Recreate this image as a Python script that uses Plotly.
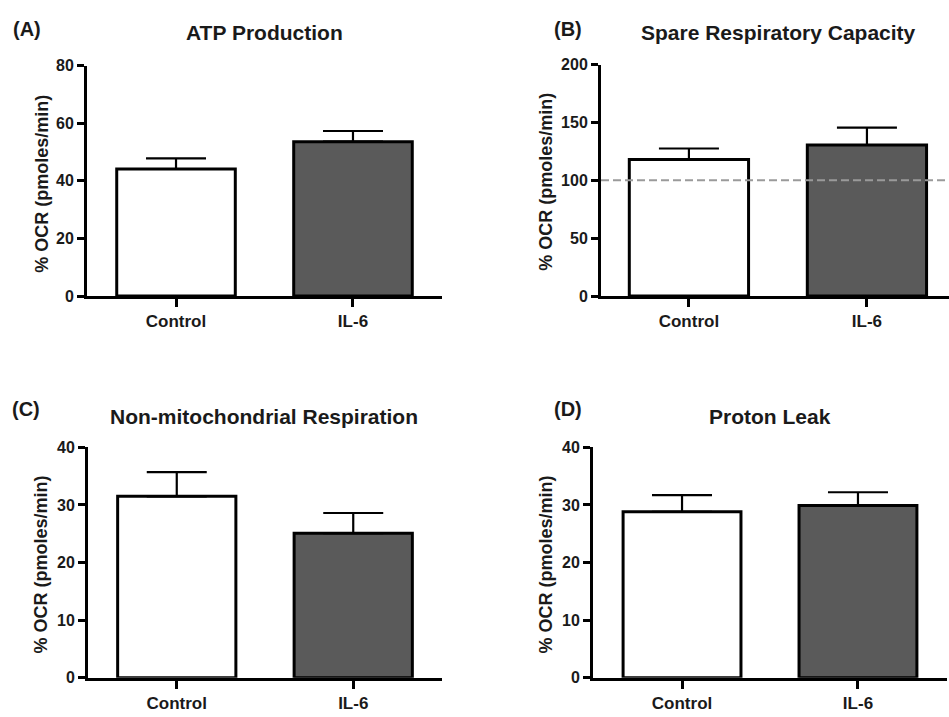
import plotly.graph_objects as go

# Seahorse OCR summary: four panels, Control vs IL-6 (mean + SEM)
groups = ["Control", "IL-6"]

atp_mean = [44.1, 53.6]
atp_err = [3.7, 3.7]

spare_mean = [118.0, 130.5]
spare_err = [9.5, 15.0]

nonmito_mean = [31.5, 25.1]
nonmito_err = [4.2, 3.5]

leak_mean = [28.8, 29.9]
leak_err = [2.9, 2.3]

panel_titles = ["ATP Production", "Spare Respiratory Capacity",
                "Non-mitochondrial Respiration", "Proton Leak"]
panel_letters = ["(A)", "(B)", "(C)", "(D)"]
y_title = "% OCR (pmoles/min)"
baseline_pct = 100

bar_colors = ["#ffffff", "#5a5a5a"]
FONT = "Liberation Sans, Arial, sans-serif"
INK = "#1a1a1a"

W, H = 949, 717

def px_x(p):
    return p / W

def px_y(p):
    return 1 - p / H

panels = [
    dict(mean=atp_mean, err=atp_err, yr=[0, 80], dt=20,
         xd=[87, 442], yd=[295, 59], xr=[-0.503, 1.503]),
    dict(mean=spare_mean, err=spare_err, yr=[0, 200], dt=50,
         xd=[601, 949], yd=[295, 58], xr=[-0.494, 1.461]),
    dict(mean=nonmito_mean, err=nonmito_err, yr=[0, 40], dt=10,
         xd=[88, 442], yd=[686, 450], xr=[-0.503, 1.503]),
    dict(mean=leak_mean, err=leak_err, yr=[0, 40], dt=10,
         xd=[593, 947], yd=[686, 450], xr=[-0.506, 1.506]),
]

fig = go.Figure()
layout = {}

for i, p in enumerate(panels):
    k = "" if i == 0 else str(i + 1)
    fig.add_trace(go.Bar(
        x=groups, y=p["mean"], width=0.67,
        marker=dict(color=bar_colors, line=dict(color="#000000", width=3)),
        error_y=dict(type="data", array=p["err"], arrayminus=[0, 0],
                     symmetric=False, color="#000000", thickness=2.2, width=30),
        xaxis="x" + k, yaxis="y" + k, showlegend=False,
    ))
    layout["xaxis" + k] = dict(
        domain=[px_x(p["xd"][0]), px_x(p["xd"][1])],
        anchor="y" + k, range=p["xr"], type="category",
        showline=True, linecolor="#000000", linewidth=3,
        ticks="outside", ticklen=8, tickwidth=3, tickcolor="#000000",
        showgrid=False, zeroline=False,
        tickfont=dict(family=FONT, size=17, color=INK, weight="bold"),
    )
    layout["yaxis" + k] = dict(
        domain=[px_y(p["yd"][0]), px_y(p["yd"][1])],
        anchor="x" + k, range=p["yr"], dtick=p["dt"],
        showline=True, linecolor="#000000", linewidth=3,
        ticks="outside", ticklen=7, tickwidth=3, tickcolor="#000000",
        showgrid=False, zeroline=False,
        tickfont=dict(family=FONT, size=16, color=INK, weight="bold"),
    )

# reference level at 100 % in the spare capacity panel
fig.add_shape(type="line", xref="x2 domain", yref="y2",
              x0=0, x1=1, y0=baseline_pct, y1=baseline_pct,
              line=dict(color="#9a9a9a", width=2, dash="8px,4px"), layer="above")

title_pos = [(264, 25), (778, 25), (264, 418), (770, 418)]
letter_pos = [(27, 21), (568, 21), (26, 411), (568, 411)]
ytitle_pos = [(42, 180), (546, 178), (41, 570), (546, 570)]

ann = []
for t, (x, y) in zip(panel_titles, title_pos):
    ann.append(dict(text="<b>%s</b>" % t, x=px_x(x), y=px_y(y), xref="paper", yref="paper",
                    xanchor="center", yanchor="middle", showarrow=False,
                    font=dict(family=FONT, size=21, color=INK)))
for t, (x, y) in zip(panel_letters, letter_pos):
    ann.append(dict(text="<b>%s</b>" % t, x=px_x(x), y=px_y(y), xref="paper", yref="paper",
                    xanchor="center", yanchor="middle", showarrow=False,
                    font=dict(family=FONT, size=20, color=INK)))
for (x, y) in ytitle_pos:
    ann.append(dict(text="<b>%s</b>" % y_title, x=px_x(x), y=px_y(y), xref="paper", yref="paper",
                    xanchor="center", yanchor="middle", showarrow=False, textangle=-90,
                    font=dict(family=FONT, size=18, color=INK)))

fig.update_layout(
    width=W, height=H,
    margin=dict(l=0, r=0, t=0, b=0),
    paper_bgcolor="#ffffff", plot_bgcolor="#ffffff",
    font=dict(family=FONT, color=INK),
    bargap=0.33,
    annotations=ann,
    **layout,
)

fig.write_html("out.html")
